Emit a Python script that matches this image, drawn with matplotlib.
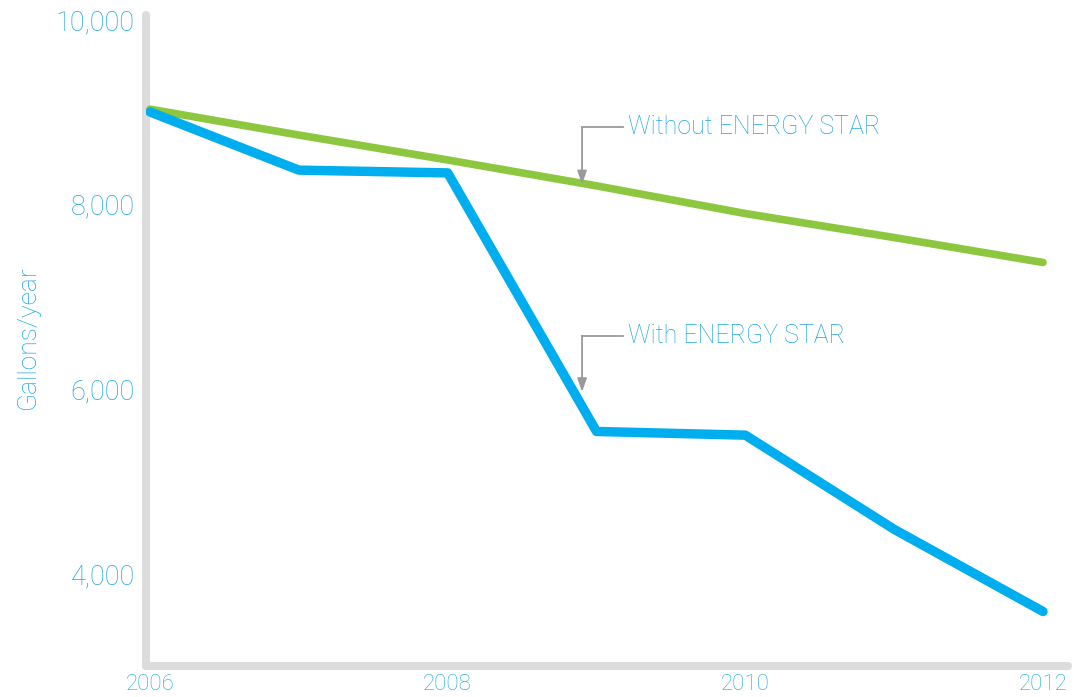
import matplotlib
matplotlib.use('Agg')
import matplotlib.pyplot as plt

# data
years = [2006, 2007, 2008, 2009, 2010, 2011, 2012]
without_star = [9030, 8750, 8480, 8200, 7900, 7640, 7370]
with_star = [9000, 8370, 8340, 5540, 5500, 4480, 3590]
y_ticks = [4000, 6000, 8000, 10000]
x_ticks = [2006, 2008, 2010, 2012]

blue = '#00aeef'
label_blue = '#1ea8e0'
green = '#8dc63f'
grey = '#dcdcdc'
arrow_grey = '#9a9a9a'

plt.rcParams['font.family'] = ['Roboto', 'DejaVu Sans']

fig = plt.figure(figsize=(10.74, 6.97), dpi=100)
ax = fig.add_axes([146/1074, 1 - 666/697, (1068 - 146)/1074, (666 - 15)/697])

ax.plot(years, without_star, color=green, lw=5.5, solid_capstyle='round',
        solid_joinstyle='round', zorder=3)
ax.plot(years, with_star, color=blue, lw=6.8, solid_capstyle='round',
        solid_joinstyle='round', zorder=4)

ax.set_xlim(2005.973, 2012.168)
ax.set_ylim(3000, 10050)

# axes: thick light grey lines on left and bottom only
for s in ['top', 'right']:
    ax.spines[s].set_visible(False)
for s in ['left', 'bottom']:
    ax.spines[s].set_color(grey)
    ax.spines[s].set_linewidth(5.8)
    ax.spines[s].set_capstyle('round')

ax.set_yticks(y_ticks)
ax.set_yticklabels([f'{v:,}' for v in y_ticks])
ax.set_xticks(x_ticks)
ax.set_xticklabels([str(v) for v in x_ticks])
ax.tick_params(axis='y', length=0, pad=8, labelsize=19.5, labelcolor=label_blue)
ax.tick_params(axis='x', length=0, pad=6, labelsize=16, labelcolor=label_blue)
for t in ax.get_yticklabels() + ax.get_xticklabels():
    t.set_fontweight('light')

ax.set_ylabel('Gallons/year', color=label_blue, fontsize=19, fontweight='light')
ax.yaxis.set_label_coords(-0.115, 0.505)

# callouts
callouts = [
    ('Without ENERGY STAR', 2008.903, 8832, 8216),
    ('With ENERGY STAR', 2008.903, 6573, 5968),
]
for text, x, y_elbow, y_tip in callouts:
    ax.plot([x, 2009.18], [y_elbow, y_elbow], color=arrow_grey, lw=1.3, zorder=5)
    ax.annotate('', xy=(x, y_tip), xytext=(x, y_elbow),
                arrowprops=dict(arrowstyle='-|>,head_length=0.8,head_width=0.28',
                                color=arrow_grey, lw=1.3, shrinkA=0, shrinkB=0),
                zorder=5)
    ax.text(2009.21, y_elbow, text, color=label_blue, fontsize=18,
            fontweight='light', va='center', ha='left')

plt.savefig('out.png', dpi=100)
